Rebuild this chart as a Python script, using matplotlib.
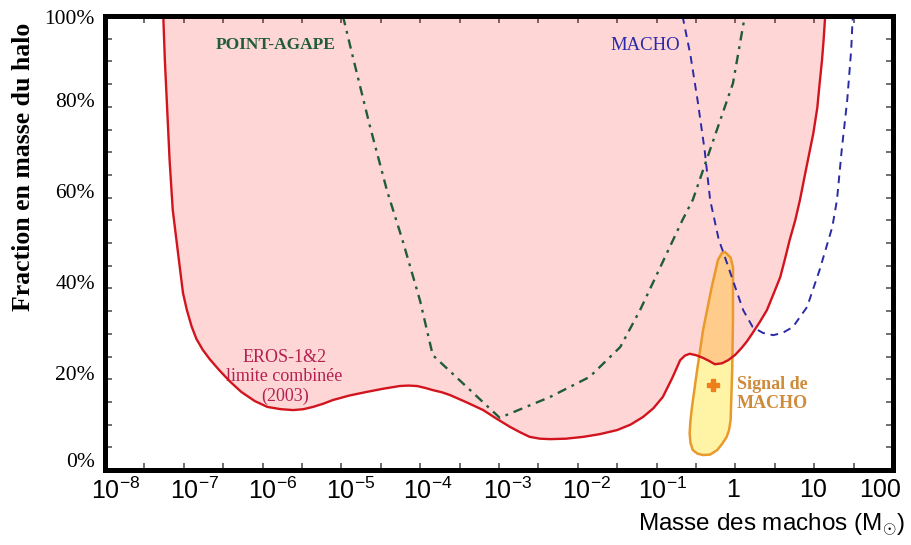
import numpy as np
import matplotlib
matplotlib.use("Agg")
import matplotlib.pyplot as plt
from matplotlib.ticker import FixedLocator, NullFormatter
from matplotlib.transforms import ScaledTranslation

plt.rcParams['mathtext.fontset'] = 'custom'
plt.rcParams['mathtext.rm'] = 'Liberation Sans'
plt.rcParams['mathtext.it'] = 'Liberation Sans:italic'
plt.rcParams['mathtext.default'] = 'rm'

# EROS-1&2 combined limit (log10 mass, halo fraction %)
eros_logm = [-7.26, -7.24, -7.21, -7.18, -7.14, -7.07, -7.01, -6.96, -6.90, -6.84,
             -6.76, -6.67, -6.55, -6.42, -6.27, -6.10, -5.94, -5.77, -5.61, -5.48,
             -5.36, -5.23, -5.11, -4.90, -4.68, -4.47, -4.26, -4.15, -4.04, -3.94,
             -3.84, -3.72, -3.62, -3.41, -3.20, -3.03, -2.86, -2.73, -2.61, -2.48,
             -2.35, -2.15, -1.93, -1.72, -1.50, -1.33, -1.17, -1.04, -0.92, -0.80,
             -0.70, -0.64, -0.58, -0.50, -0.41, -0.33, -0.26, -0.17, -0.09, 0.00,
             0.08, 0.15, 0.22, 0.31, 0.40, 0.48, 0.57, 0.63, 0.69, 0.76,
             0.82, 0.90, 0.99, 1.04, 1.07, 1.10, 1.12, 1.14]
eros_frac = [100, 90.3, 79.3, 68.3, 57.3, 47.4, 39.0, 35.2, 31.6, 28.9,
             26.5, 24.4, 22.0, 19.6, 17.2, 15.2, 13.9, 13.4, 13.2, 13.4,
             13.9, 14.6, 15.4, 16.4, 17.2, 17.9, 18.5, 18.6, 18.5, 18.1,
             17.6, 17.1, 16.5, 14.9, 13.2, 11.3, 9.5, 8.3, 7.3, 6.9,
             6.8, 6.9, 7.3, 7.9, 8.8, 10.0, 11.7, 13.6, 16.1, 20.3,
             24.2, 25.2, 25.6, 25.3, 24.7, 24.0, 23.3, 23.5, 24.2, 25.4,
             26.9, 28.4, 30.2, 32.6, 35.2, 38.6, 42.5, 46.5, 50.7, 55.0,
             59.5, 66.5, 74.2, 79.8, 85.2, 90.3, 94.7, 100]

# POINT-AGAPE limit
agape_logm = [-4.98, -4.85, -4.64, -4.42, -4.22, -4.00, -3.84, -2.99, -2.35, -1.85,
              -1.46, -1.21, -0.67, -0.54, -0.03, 0.12]
agape_frac = [100, 90.7, 75.9, 61.5, 50.4, 37.2, 25.3, 11.5, 16.1, 20.5,
              27.1, 35.2, 55.1, 59.5, 85.2, 100]

# MACHO limit
macho_logm = [-0.67, -0.57, -0.48, -0.39, -0.32, -0.21, -0.15, -0.02, 0.10, 0.22,
              0.35, 0.48, 0.60, 0.73, 0.91, 1.07, 1.23, 1.29, 1.35, 1.42,
              1.47, 1.49]
macho_frac = [100, 91.4, 81.5, 70.5, 59.5, 50.7, 47.8, 41.2, 35.2, 31.5,
              30.2, 29.7, 30.2, 31.5, 35.9, 44.1, 53.5, 59.5, 70.5, 81.5,
              92.5, 100]

# MACHO signal contour and best value
signal_logm = [-0.13, -0.06, -0.03, -0.03, -0.04, -0.06, -0.08, -0.11, -0.17, -0.23,
               -0.32, -0.41, -0.48, -0.54, -0.57, -0.58, -0.57, -0.55, -0.49, -0.41,
               -0.30, -0.22, -0.17]
signal_frac = [48.0, 46.8, 44.7, 33.0, 22.0, 11.0, 8.8, 7.3, 5.7, 4.4,
               3.4, 3.3, 3.6, 4.4, 6.0, 8.1, 10.8, 13.9, 21.4, 30.8,
               40.3, 46.3, 47.8]
signal_best = (-0.28, 18.7)

xtick_exp = [-8, -7, -6, -5, -4, -3, -2, -1, 0, 1, 2]
xtick_labels = [r'$10^{-8}$', r'$10^{-7}$', r'$10^{-6}$', r'$10^{-5}$', r'$10^{-4}$',
                r'$10^{-3}$', r'$10^{-2}$', r'$10^{-1}$', '1', '10', '100']
xtick_shift = [11, 11, 10, 9, 8, 9, 9, 6, -2, -1, -13]   # px, label offsets as in the figure
ytick_vals = [0, 20, 40, 60, 80, 100]
ytick_labels = ['0%', '20%', '40%', '60%', '80%', '100%']
ytick_shift = [8, 4, 4, 4, 4, -3]

fig = plt.figure(figsize=(9.12, 5.45), dpi=100)
ax = fig.add_axes([0.1151, 0.1376, 0.8640, 0.8330])

em = np.power(10.0, eros_logm)
am = np.power(10.0, agape_logm)
mm = np.power(10.0, macho_logm)
sm = np.power(10.0, signal_logm)

# signal region (yellow), excluded region drawn over it as translucent red
ax.fill(sm, signal_frac, color='#fff4a6', lw=0, zorder=1)
ax.fill(em, eros_frac, color='red', alpha=0.16, lw=0, zorder=2)
ax.fill(sm, signal_frac, facecolor='none', edgecolor='#e89a2c', lw=1.8, zorder=3)
ax.plot(em, eros_frac, color='#d2141e', lw=1.7, zorder=4)
ax.plot(am, agape_frac, color='#1f5c37', lw=1.7, dashes=(4, 2.5, 1.2, 2.5), zorder=5)
ax.plot(mm, macho_frac, color='#2a2aa8', lw=1.4, dashes=(4, 3), zorder=5)
ax.plot(10 ** signal_best[0], signal_best[1], marker='P', color='#ee7f1a',
        ms=8, mec='#ee7f1a', zorder=6)

ax.set_xscale('log')
ax.set_xlim(1e-8, 1e2)
ax.set_ylim(0, 100)

ax.xaxis.set_major_locator(FixedLocator(np.power(10.0, xtick_exp)))
ax.xaxis.set_minor_locator(FixedLocator(np.power(10.0, np.array(xtick_exp[:-1]) + 0.5)))
ax.xaxis.set_minor_formatter(NullFormatter())
ax.set_xticklabels([])
ax.set_yticks(ytick_vals)
ax.set_yticks(np.arange(0, 101, 5), minor=True)
ax.set_yticklabels([])

ax.tick_params(which='both', direction='in', top=True, right=True,
               length=5, width=1.2, color='#555555')
for s in ax.spines.values():
    s.set_linewidth(3.6)
    s.set_color('black')
    s.set_zorder(10)

# tick labels placed by hand so they sit where the figure has them
for e, lab, dx in zip(xtick_exp, xtick_labels, xtick_shift):
    tr = ax.get_xaxis_transform() + ScaledTranslation(dx / 100, -8 / 100, fig.dpi_scale_trans)
    ax.text(10.0 ** e, 0, lab, transform=tr, fontsize=18, family='Liberation Sans',
            ha='center', va='top', clip_on=False)
for v, lab, dy in zip(ytick_vals, ytick_labels, ytick_shift):
    tr = ax.get_yaxis_transform() + ScaledTranslation(-10 / 100, dy / 100, fig.dpi_scale_trans)
    ax.text(0, v, lab, transform=tr, fontsize=15.5, family='Liberation Serif',
            ha='right', va='center', clip_on=False)

ax.text(10 ** -6.6, 93.6, 'POINT-AGAPE', color='#1f5c37', fontsize=12.5,
        fontweight='bold', family='Liberation Serif', ha='left', va='center')
ax.text(10 ** -1.59, 93.6, 'MACHO', color='#2a2aa8', fontsize=13.5,
        family='Liberation Serif', ha='left', va='center')
ax.text(10 ** -5.72, 20.5, 'EROS-1&2\nlimite combinée\n(2003)', color='#b52050',
        fontsize=13, family='Liberation Serif', ha='center', va='center',
        multialignment='center', linespacing=1.15)
ax.text(10 ** 0.02, 16.7, 'Signal de\nMACHO', color='#cf8a3a', fontsize=13,
        fontweight='bold', family='Liberation Serif', ha='left', va='center',
        linespacing=1.2)

fig.text(0.026, 1 - 167 / 545, 'Fraction en masse du halo', rotation=90,
         fontsize=18.5, fontweight='bold', family='Liberation Serif',
         ha='center', va='center')
fig.text(905 / 912, 1 - 525 / 545, r'Masse des machos (M$_{\odot}$)', fontsize=17.5,
         family='Liberation Sans', ha='right', va='center')

fig.savefig('out.png', dpi=100)
